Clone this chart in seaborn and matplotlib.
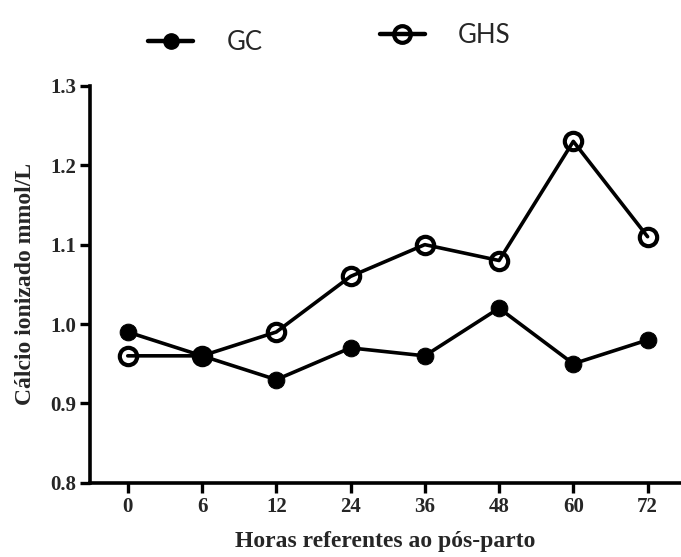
import numpy as np
import matplotlib
matplotlib.use('Agg')
import matplotlib.pyplot as plt
from matplotlib.lines import Line2D
import seaborn as sns
import pandas as pd

horas = ['0', '6', '12', '24', '36', '48', '60', '72']
gc = [0.99, 0.96, 0.93, 0.97, 0.96, 1.02, 0.95, 0.98]
ghs = [0.96, 0.96, 0.99, 1.06, 1.10, 1.08, 1.23, 1.11]

sns.set_theme(style='ticks')
plt.rcParams['font.family'] = ['Liberation Serif', 'DejaVu Serif']

df = pd.DataFrame({'pos': list(range(len(horas))) * 2,
                   'valor': gc + ghs,
                   'grupo': ['GC'] * len(gc) + ['GHS'] * len(ghs)})

fig = plt.figure(figsize=(6.81, 5.57), dpi=100)
ax = fig.add_axes([0.132, 0.133, 0.868, 0.713])

sns.lineplot(data=df[df['grupo'] == 'GC'], x='pos', y='valor', ax=ax, color='black',
             lw=2.6, marker='o', ms=12, mfc='black', mec='black', legend=False, zorder=2)
sns.lineplot(data=df[df['grupo'] == 'GHS'], x='pos', y='valor', ax=ax, color='black',
             lw=2.6, marker='o', ms=12.5, mfc='none', mec='black', mew=3, legend=False, zorder=3)

ax.set_xlim(-0.51, 7.45)
ax.set_ylim(0.8, 1.3)
ax.set_xticks(range(len(horas)))
ax.set_xticklabels(horas)
ax.set_yticks([0.8, 0.9, 1.0, 1.1, 1.2, 1.3])
ax.set_yticklabels(['0.8', '0.9', '1.0', '1.1', '1.2', '1.3'])
for s in ['top', 'right']:
    ax.spines[s].set_visible(False)
for s in ['left', 'bottom']:
    ax.spines[s].set_linewidth(2.6)
    ax.spines[s].set_color('black')
ax.tick_params(axis='both', length=7, width=2.4, color='black', labelsize=15, pad=3)
for t in ax.get_xticklabels() + ax.get_yticklabels():
    t.set_fontweight('bold')
ax.set_xlabel('Horas referentes ao pós-parto', fontsize=17, fontweight='bold', labelpad=10)
ax.set_ylabel('Cálcio ionizado mmol/L', fontsize=17, fontweight='bold', labelpad=10)

h_gc = Line2D([0], [0], color='black', lw=3.2, marker='o', ms=11, mfc='black', mec='black')
h_ghs = Line2D([0], [0], color='black', lw=3.2, marker='o', ms=12, mfc='none', mec='black', mew=3)
leg_font = {'family': 'Lato', 'size': 18.5}
fig.legend([h_gc], ['GC'], loc='center', bbox_to_anchor=(0.302, 0.924), frameon=False,
           prop=leg_font, handlelength=1.75, handletextpad=1.3)
fig.legend([h_ghs], ['GHS'], loc='center', bbox_to_anchor=(0.654, 0.937), frameon=False,
           prop=leg_font, handlelength=1.75, handletextpad=1.3)

fig.savefig('out.png', dpi=100)
